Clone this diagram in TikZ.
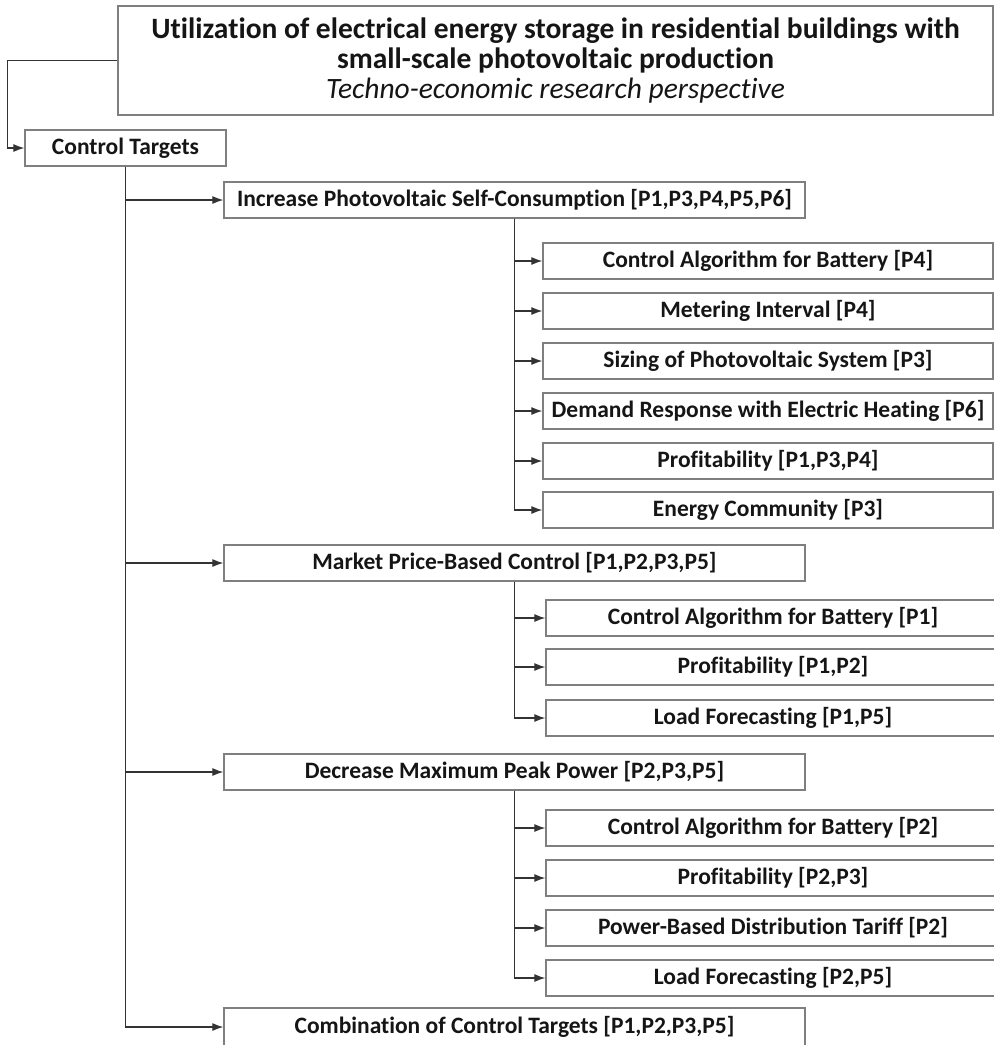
\documentclass[tikz,border=0pt]{standalone}
\usepackage{fontspec}
\setmainfont{Carlito}[Ligatures={NoCommon}]
\usepackage{tikz}
\usetikzlibrary{arrows.meta}
\definecolor{edge}{HTML}{7F7F7F}
\definecolor{ink}{HTML}{151515}
\definecolor{wire}{HTML}{333333}
\tikzset{
  box/.style={rectangle, draw=edge, line width=1.3pt, fill=white, minimum height=36pt,
              inner sep=0pt, font=\fontsize{23.5}{26}\selectfont\bfseries, text=ink, align=center},
  leaf/.style={box, minimum width=450pt},
  head/.style={rectangle, draw=edge, line width=1.3pt, minimum width=875pt, minimum height=109pt,
               inner sep=0pt, text=ink, align=center, font=\fontsize{29.5}{30}\selectfont},
  arr/.style={-{Latex[length=11pt,width=8pt]}, line width=1.2pt, draw=wire},
}

\begin{document}
\begin{tikzpicture}[x=1pt,y=-1pt]
  \useasboundingbox (0,0) rectangle (994,1045);
  % title and root
  \node[head] (title) at (555.5,60.5)
    {\textbf{Utilization of electrical energy storage in residential buildings with}\\
     \textbf{small-scale photovoltaic production}\\
     \textit{Techno-economic research perspective}};
  \node[box, minimum width=201pt] (ct) at (125.5,148) {Control Targets};
  \draw[arr] (title.west) -- ++(-110,0) |- (ct.west);

  % control targets
  \node[box, minimum width=581pt] (pv) at (514.5,200) {Increase Photovoltaic Self-Consumption [P1,P3,P4,P5,P6]};
  \node[box, minimum width=581pt] (mp) at (514.5,563) {Market Price-Based Control [P1,P2,P3,P5]};
  \node[box, minimum width=581pt] (dp) at (514.5,772) {Decrease Maximum Peak Power [P2,P3,P5]};
  \node[box, minimum width=581pt, minimum height=38pt] (cb) at (514.5,1027) {Combination of Control Targets [P1,P2,P3,P5]};
  \foreach \t in {pv,mp,dp,cb}
    {\draw[arr] (ct.south) |- (\t.west);}

  % self-consumption
  \foreach \n/\y/\txt in {1/261/{Control Algorithm for Battery [P4]},2/311/{Metering Interval [P4]},
      3/361/{Sizing of Photovoltaic System [P3]},4/411/{Demand Response with Electric Heating [P6]},
      5/461/{Profitability [P1,P3,P4]},6/510/{Energy Community [P3]}}
    {\node[leaf] (pv\n) at (768,\y) {\txt};
     \draw[arr] (pv.south) |- (pv\n.west);}

  % market price
  \foreach \n/\y/\txt in {1/618/{Control Algorithm for Battery [P1]},2/667/{Profitability [P1,P2]},
      3/718/{Load Forecasting [P1,P5]}}
    {\node[leaf, minimum width=454pt] (mp\n) at (773,\y) {\txt};
     \draw[arr] (mp.south) |- (mp\n.west);}

  % peak power
  \foreach \n/\y/\txt in {1/828/{Control Algorithm for Battery [P2]},2/878/{Profitability [P2,P3]},
      3/928/{Power-Based Distribution Tariff [P2]},4/978/{Load Forecasting [P2,P5]}}
    {\node[leaf, minimum width=454pt] (dp\n) at (773,\y) {\txt};
     \draw[arr] (dp.south) |- (dp\n.west);}
\end{tikzpicture}
\end{document}
